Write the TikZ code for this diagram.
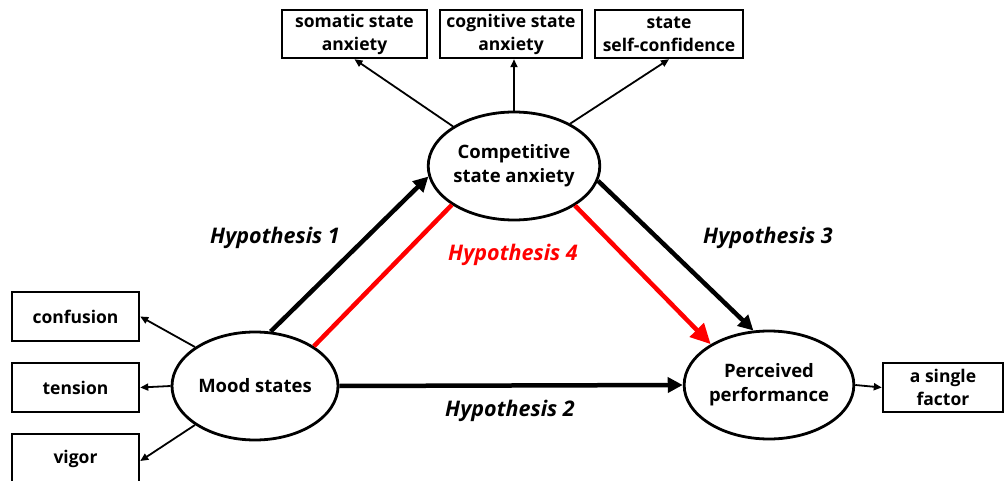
\documentclass[tikz,border=0pt]{standalone}
\usepackage{fontspec}
\setmainfont{Open Sans}
\usetikzlibrary{arrows.meta,shapes.geometric}
\begin{document}
\begin{tikzpicture}[x=1pt,y=-1pt,
  box/.style={draw, line width=2.5pt, inner sep=0pt, align=center,
    font=\fontsize{17.5}{23}\selectfont\bfseries, minimum height=48pt},
  lat/.style={draw, ellipse, line width=2.8pt, inner sep=0pt, align=center,
    font=\fontsize{18.5}{24}\selectfont\bfseries, minimum width=166pt, minimum height=108pt},
  ind/.style={line width=1.8pt, -{Triangle[length=8pt,width=7pt]}},
  hpath/.style={line width=4.5pt, -{Triangle[length=15pt,width=15pt]}},
  hyp/.style={font=\fontsize{21.5}{24}\selectfont\bfseries\itshape}
]
\useasboundingbox (0,0) rectangle (1004,481);
% latent variables
\node[lat] (comp) at (514,166) {Competitive\\state anxiety};
\node[lat] (mood) at (255,386) {Mood states};
\node[lat] (perf) at (769,385) {Perceived\\performance};
% indicators
\node[box, minimum width=145pt] (som) at (354.5,34) {somatic state\\anxiety};
\node[box, minimum width=142pt] (cog) at (511,34) {cognitive state\\anxiety};
\node[box, minimum width=148pt] (conf) at (669,34) {state\\self-confidence};
\node[box, minimum width=127pt, minimum height=49pt] (cnf) at (75.5,316.5) {confusion};
\node[box, minimum width=127pt, minimum height=49pt] (ten) at (75.5,387.5) {tension};
\node[box, minimum width=127pt, minimum height=50pt] (vig) at (75.5,459) {vigor};
\node[box, minimum width=120pt, minimum height=49pt] (fac) at (943,387.5) {a single\\factor};
% indicator arrows
\draw[ind] (comp.147) -- (som.south);
\draw[ind] (comp.north) -- (comp.north |- cog.south);
\draw[ind] (comp.37) -- (conf.south);
\draw[ind] (mood.147) -- (cnf.east);
\draw[ind] (mood.west) -- (ten.east);
\draw[ind] (mood.213) -- ([yshift=-2pt]vig.east);
\draw[ind] (perf.east) -- (fac.west);
% structural paths
\draw[hpath] (mood.74) -- (comp.187);
\draw[hpath] (comp.350) -- (perf.106);
\draw[hpath] (mood.east) -- (perf.west);
\draw[line width=4.5pt, red] (mood.34) -- (comp.212);
\draw[line width=4.5pt, red, -{Triangle[length=20pt,width=19pt]}] (comp.327) -- (perf.145);
% labels
\node[hyp] (h1) at (275,238) {Hypothesis 1};
\node[hyp, red] (h4) at (513,255) {Hypothesis 4};
\node[hyp] (h3) at (768,238) {Hypothesis 3};
\node[hyp] (h2) at (510,411) {Hypothesis 2};
\end{tikzpicture}
\end{document}
